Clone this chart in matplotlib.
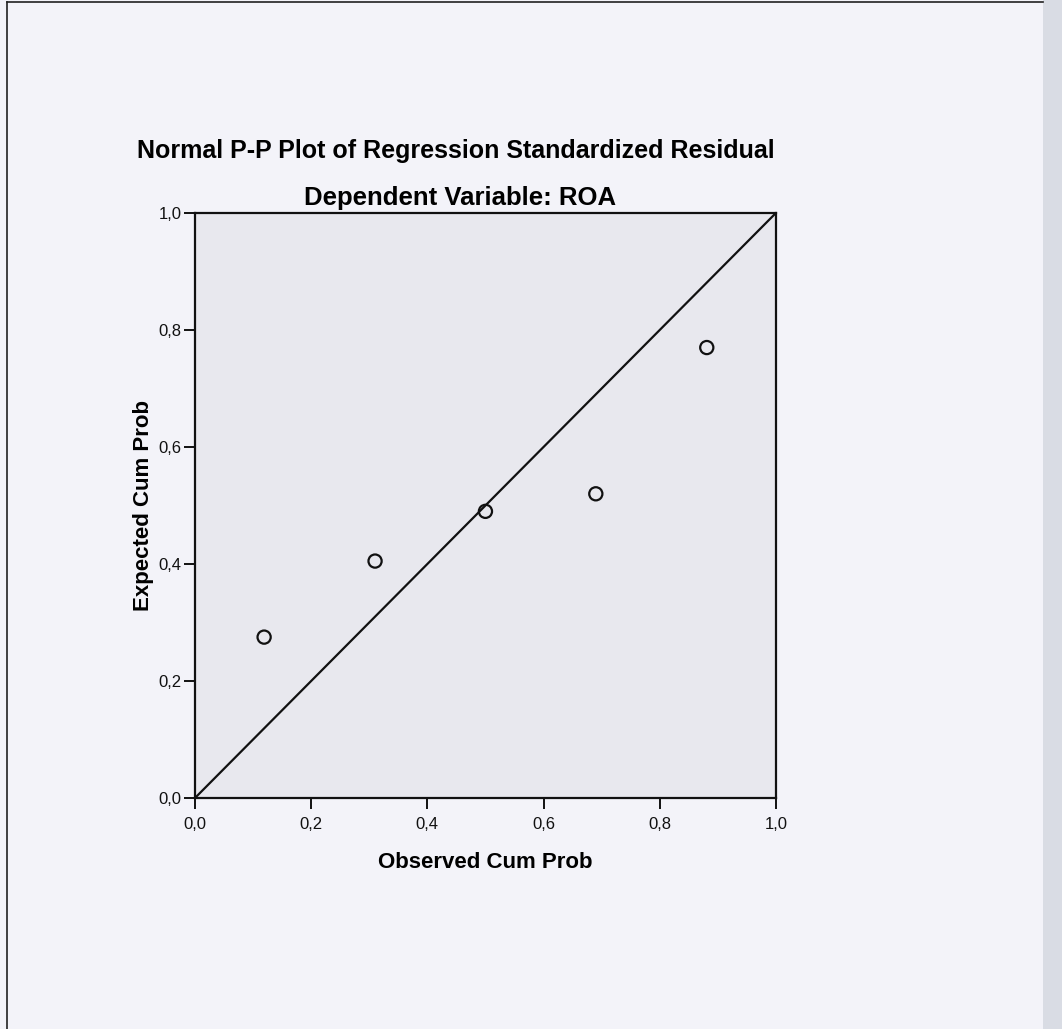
import matplotlib

matplotlib.use("Agg")
import matplotlib.pyplot as plt
from matplotlib.lines import Line2D
from matplotlib.ticker import FuncFormatter

# observed vs expected cumulative probabilities (5 cases)
observed_cum_prob = [0.119, 0.310, 0.500, 0.690, 0.881]
expected_cum_prob = [0.275, 0.405, 0.490, 0.520, 0.770]
tick_values = [0.0, 0.2, 0.4, 0.6, 0.8, 1.0]

title = "Normal P-P Plot of Regression Standardized Residual"
subtitle = "Dependent Variable: ROA"

plt.rcParams["font.family"] = ["Liberation Sans", "DejaVu Sans"]

fig = plt.figure(figsize=(10.62, 10.29), dpi=100)
fig.patch.set_facecolor("#f3f3f9")

# scan artefacts: grey strip at the right edge, dark frame at top/left
fig.patches.append(plt.Rectangle((0.982, 0), 0.018, 1, transform=fig.transFigure,
                                 facecolor="#d9dce4", edgecolor="none"))
fig.lines.append(Line2D([0.0066, 0.0066], [0, 0.998], transform=fig.transFigure,
                        color="#222222", linewidth=1.2))
fig.lines.append(Line2D([0.0066, 0.982], [0.998, 0.998], transform=fig.transFigure,
                        color="#222222", linewidth=1.2))

ax = fig.add_axes([0.1836, 0.2245, 0.547, 0.5685])
ax.set_facecolor("#e8e8ee")
ax.plot([0, 1], [0, 1], color="#111111", linewidth=1.6, zorder=2)
ax.scatter(observed_cum_prob, expected_cum_prob, s=90, facecolors="none",
           edgecolors="#111111", linewidths=1.6, zorder=3)

ax.set_xlim(0, 1)
ax.set_ylim(0, 1)
comma = FuncFormatter(lambda v, _: f"{v:.1f}".replace(".", ","))
ax.set_xticks(tick_values)
ax.set_yticks(tick_values)
ax.xaxis.set_major_formatter(comma)
ax.yaxis.set_major_formatter(comma)
ax.tick_params(direction="out", length=8, width=1.4, labelsize=12, colors="#111111")
ax.tick_params(axis="x", pad=6)
ax.tick_params(axis="y", pad=1.5)
for spine in ax.spines.values():
    spine.set_linewidth(1.6)
    spine.set_color("#111111")

ax.set_xlabel("Observed Cum Prob", fontsize=16, fontweight="bold", labelpad=14)
ax.set_ylabel("Expected Cum Prob", fontsize=16, fontweight="bold", labelpad=3)

fig.text(0.429, 0.853, title, ha="center", va="center", fontsize=18, fontweight="bold")
fig.text(0.433, 0.808, subtitle, ha="center", va="center", fontsize=18.5, fontweight="bold")

fig.savefig("out.png", dpi=100, facecolor=fig.get_facecolor())
